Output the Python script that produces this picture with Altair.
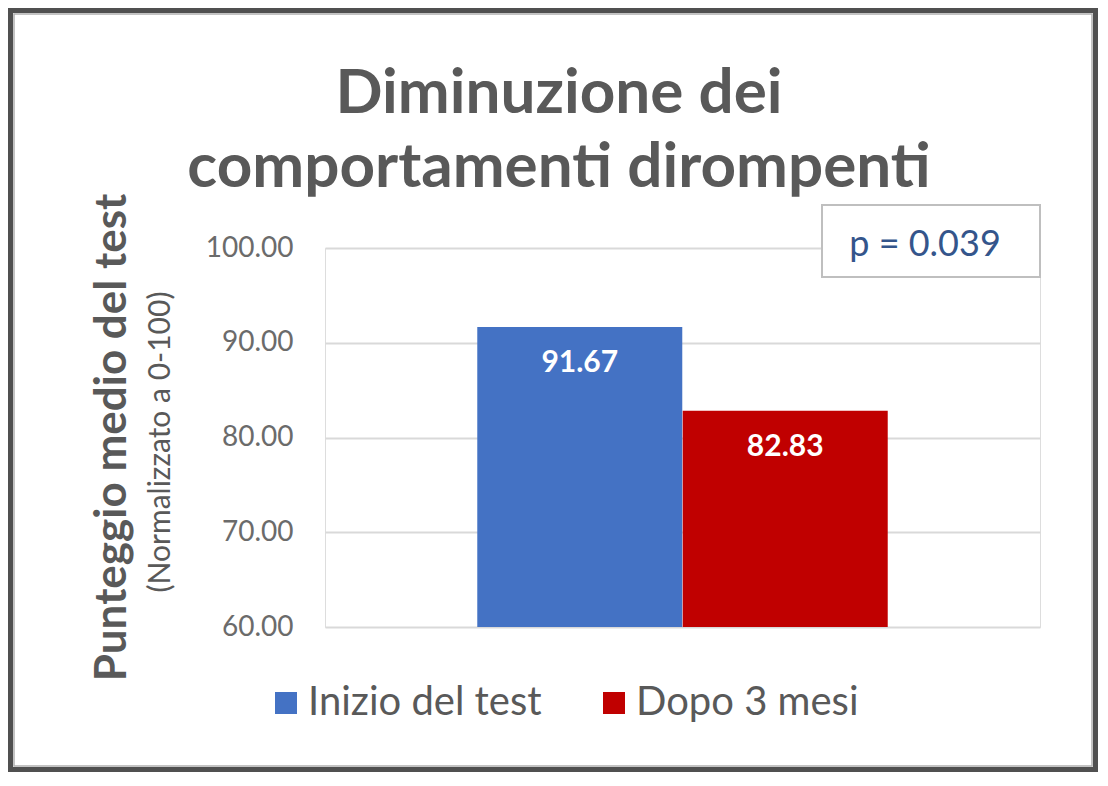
import altair as alt
import pandas as pd

# dati del grafico
series = ["Inizio del test", "Dopo 3 mesi"]
values = [91.67, 82.83]
colors = ["#4472C4", "#C00000"]
y_ticks = [60, 70, 80, 90, 100]
y_min = 60
y_max = 100
title_lines = ["Diminuzione dei", "comportamenti dirompenti"]
y_title = "Punteggio medio del test"
y_subtitle = "(Normalizzato a 0-100)"
p_text = "p = 0.039"

FONT = "Lato"
GREY = "#595959"

df = pd.DataFrame({"Serie": series, "Valore": values})
one = pd.DataFrame({"k": [0]})

x_enc = alt.X("Serie:N", sort=series, axis=None,
              scale=alt.Scale(paddingInner=0, paddingOuter=0.74))

bars = alt.Chart(df).mark_bar(size=205).encode(
    x=x_enc,
    y=alt.Y("Valore:Q",
            scale=alt.Scale(domain=[y_min, y_max], nice=False, zero=False),
            axis=alt.Axis(values=y_ticks, format=".2f", title=y_title,
                          domain=False, ticks=False, grid=True,
                          gridColor="#d9d9d9", gridWidth=2,
                          labelFont=FONT, labelFontSize=28, labelColor="#6b6b6b",
                          labelPadding=32,
                          titleFont=FONT, titleFontSize=44, titleFontWeight="bold",
                          titleColor=GREY, titleX=-213, titleY=189,
                          titleAlign="center", titleBaseline="middle")),
    y2=alt.datum(y_min),
    color=alt.Color("Serie:N", sort=series,
                    scale=alt.Scale(domain=series, range=colors),
                    legend=alt.Legend(title=None, orient="none", direction="horizontal",
                                      legendX=-59, legendY=435, padding=0,
                                      symbolType="square", symbolSize=484,
                                      symbolStrokeWidth=0, symbolOpacity=1,
                                      labelFont=FONT, labelFontSize=40,
                                      labelColor=GREY, labelOffset=2,
                                      labelLimit=400, columnPadding=52)),
)

labels = alt.Chart(df).mark_text(
    font=FONT, fontSize=30, fontWeight="bold", color="white",
    baseline="middle", dy=36,
).encode(
    x=x_enc,
    y=alt.Y("Valore:Q"),
    text=alt.Text("Valore:Q", format=".2f"),
)

# titolo su due righe
title = alt.Chart(one).mark_text(
    font=FONT, fontSize=62, fontWeight="bold", color=GREY,
    align="center", baseline="alphabetic", lineHeight=74,
).encode(x=alt.value(234), y=alt.value(-135), text=alt.value(title_lines))

# sottotitolo asse y
subtitle = alt.Chart(one).mark_text(
    font=FONT, fontSize=30, color=GREY, angle=270,
    align="center", baseline="middle",
).encode(x=alt.value(-164), y=alt.value(194), text=alt.value(y_subtitle))

# riquadro p-value
pbox = alt.Chart(one).mark_rect(fill="white", stroke="#bfbfbf", strokeWidth=2).encode(
    x=alt.value(497), x2=alt.value(715), y=alt.value(-43), y2=alt.value(29)
)
ptext = alt.Chart(one).mark_text(
    font=FONT, fontSize=36, color="#34558b", align="center", baseline="middle",
).encode(x=alt.value(600), y=alt.value(-3), text=alt.value(p_text))

# cornice
frame = alt.Chart(one).mark_rect(fillOpacity=0, stroke="#505050", strokeWidth=5).encode(
    x=alt.value(-314.5), x2=alt.value(770.5), y=alt.value(-237.5), y2=alt.value(521.5)
)
frame_in = alt.Chart(one).mark_rect(fillOpacity=0, stroke="#b0b0b0", strokeWidth=1.5).encode(
    x=alt.value(-311), x2=alt.value(767), y=alt.value(-234), y2=alt.value(518)
)

chart = alt.layer(bars, labels, title, subtitle, pbox, ptext, frame, frame_in).properties(
    width=715, height=379,
    autosize=alt.AutoSizeParams(type="none"),
    padding={"left": 317, "top": 240, "right": 58, "bottom": 145},
).configure_view(stroke=None).configure(background="white")

chart.save("out.html", embed_options={"renderer": "svg", "actions": False})
